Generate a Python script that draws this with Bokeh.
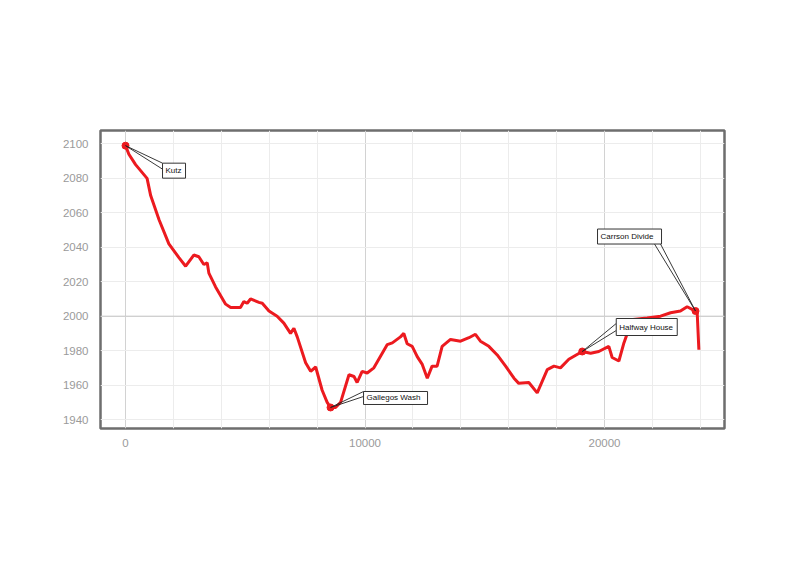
from bokeh.plotting import figure
from bokeh.models import FixedTicker, Span
from bokeh.core.properties import value
from bokeh.embed import file_html
from bokeh.resources import INLINE

# ---------------- data ----------------
distance = [0, 140, 420, 900, 1050, 1400, 1810, 2230, 2510, 2850, 3060, 3270, 3410, 3480,
            3760, 4180, 4390, 4800, 4940, 5080, 5220, 5570, 5710, 5990, 6330, 6610, 6890,
            7030, 7170, 7520, 7730, 7940, 8210, 8420, 8560, 8770, 8980, 9330, 9540, 9670,
            9880, 10090, 10370, 10930, 11140, 11480, 11620, 11760, 11970, 12180, 12390,
            12600, 12800, 13010, 13220, 13570, 13990, 14340, 14610, 14820, 15170, 15520,
            15870, 16220, 16420, 16840, 17190, 17610, 17890, 18160, 18510, 19070, 19420,
            19760, 20180, 20320, 20600, 20810, 20950, 21090, 21780, 22340, 22760, 23170,
            23450, 23660, 23800, 23870, 23940]
elevation = [2099, 2094, 2088, 2080, 2070, 2056, 2042, 2034, 2029, 2035.5, 2034.5, 2030, 2031,
             2025, 2017, 2007, 2005, 2005, 2008.5, 2007.5, 2010, 2008, 2007.5, 2003, 2000,
             1996, 1990, 1993, 1988, 1973, 1968, 1970.5, 1957, 1950, 1947, 1947, 1950, 1966,
             1965, 1961.5, 1968, 1967, 1970, 1983.5, 1984.5, 1988, 1990, 1984, 1982.5, 1976.5,
             1972, 1964, 1971, 1971, 1982.5, 1986.5, 1985.5, 1987.5, 1989.5, 1985.5, 1982.5,
             1977.5, 1971, 1964, 1961, 1961.5, 1955.5, 1969, 1971, 1970, 1975, 1979.5, 1978.5,
             1979.5, 1982.5, 1976, 1974, 1984.5, 1990, 1998, 1999, 2000, 2002, 2003, 2005.5,
             2004, 2003, 2002, 1980.5]

place_names = ["Kutz", "Gallegos Wash", "Halfway House", "Carrson Divide"]
place_x = [0, 8560, 19070, 23800]
place_y = [2099, 1947, 1979.5, 2003]

x_ticks = [0, 10000, 20000]
x_minor = [2000, 4000, 6000, 8000, 12000, 14000, 16000, 18000, 22000, 24000]
y_ticks = [1940, 1960, 1980, 2000, 2020, 2040, 2060, 2080, 2100]

# ---------------- layout ----------------
X0, X1 = -1045, 25010
Y0, Y1 = 1934.8, 2107.8
FW, FH = 624, 298
SX = (X1 - X0) / FW
SY = (Y1 - Y0) / FH

p = figure(output_backend="svg", toolbar_location=None,
           frame_width=FW, frame_height=FH,
           min_border_left=100, min_border_right=59,
           min_border_top=130, min_border_bottom=121,
           x_range=(X0, X1), y_range=(Y0, Y1))
p.background_fill_color = "white"
p.border_fill_color = "white"
p.outline_line_color = "#6e6e6e"
p.outline_line_width = 2.5

p.xaxis.ticker = FixedTicker(ticks=x_ticks, minor_ticks=x_minor)
p.yaxis.ticker = FixedTicker(ticks=y_ticks)
for ax in (p.xaxis, p.yaxis):
    ax.axis_line_color = None
    ax.major_tick_line_color = None
    ax.minor_tick_line_color = None
    ax.major_label_text_color = "#9a9a9a"
    ax.major_label_text_font = "Liberation Sans"
    ax.major_label_text_font_size = "11.5px"
p.xaxis.major_label_standoff = 4
p.yaxis.major_label_standoff = 6

p.xgrid.grid_line_color = "#d2d2d2"
p.xgrid.minor_grid_line_color = "#ececec"
p.ygrid.grid_line_color = "#ececec"
p.add_layout(Span(location=2000, dimension="width", line_color="#c4c4c4",
                  line_width=1, level="underlay"))

p.line(distance, elevation, line_color="#ec1a1f", line_width=3)
p.scatter(place_x, place_y, size=7, color="#ec1a1f")

# callout boxes: (dx, dy) of box top-left from marker in px (dy down), w, h, pointer anchors
callouts = [
    (37, 17.5, 23, 15, (0, 0), (0, 6)),
    (33, -16, 64, 13, (0, 0), (0, 5)),
    (34, -33, 61, 17, (0, 5), (0, 12)),
    (-98, -82, 64, 15, (57, 15), (63, 15)),
]
sx0, sy0, sx1, sy1 = [], [], [], []
ql, qr, qt, qb = [], [], [], []
tx, ty = [], []
for (mx, my), (dx, dy, w, h, a1, a2) in zip(zip(place_x, place_y), callouts):
    left = mx + dx * SX
    top = my - dy * SY
    ql.append(left); qr.append(left + w * SX)
    qt.append(top); qb.append(top - h * SY)
    for a in (a1, a2):
        sx0.append(mx); sy0.append(my)
        sx1.append(left + a[0] * SX); sy1.append(top - a[1] * SY)
    tx.append(left + 3 * SX); ty.append(top - h / 2 * SY)

p.segment(sx0, sy0, sx1, sy1, line_color="#222222", line_width=0.9)
p.quad(left=ql, right=qr, top=qt, bottom=qb, fill_color="white",
       line_color="#333333", line_width=1)
p.text(tx, ty, text=place_names, text_font=value("Liberation Sans"),
       text_font_size="8px", text_baseline="middle", text_align="left",
       text_color="#111111")

open("out.html", "w").write(file_html(p, INLINE))
